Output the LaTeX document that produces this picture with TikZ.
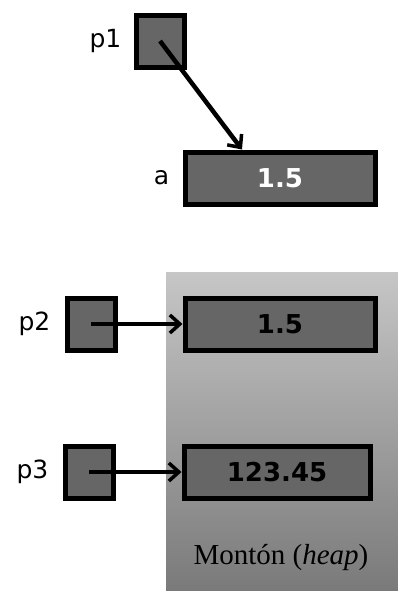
\documentclass[tikz,border=0pt]{standalone}
\usepackage{fontspec}
\setmainfont{DejaVu Sans}
\newfontfamily\serifheap{Liberation Serif}
\usetikzlibrary{arrows.meta}
\definecolor{boxfill}{HTML}{666666}
\definecolor{heaptop}{HTML}{C6C6C6}
\definecolor{heapbot}{HTML}{7A7A7A}
\tikzset{
  ptrbox/.style={draw=black, line width=5pt, fill=boxfill, minimum width=48pt, minimum height=52pt, inner sep=0pt},
  valbox/.style={draw=black, line width=5pt, fill=boxfill, minimum width=190pt, minimum height=52pt, inner sep=0pt, font=\fontsize{26}{28}\selectfont\bfseries},
  lbl/.style={font=\fontsize{25}{27}\selectfont, inner sep=0pt},
  ptrarrow/.style={line width=4.5pt, -{Straight Barb[length=10pt,width=18pt,line width=3.5pt]}}
}
\begin{document}
\begin{tikzpicture}[x=1pt,y=-1pt]
\useasboundingbox (0,0) rectangle (398,597);
\fill[white] (0,0) rectangle (398,597);
\shade[top color=heaptop, bottom color=heapbot] (166,272) rectangle (398,590);
\node[ptrbox] (p1) at (160,41) {};
\node[lbl, anchor=east] (lp1) at (p1.west) [xshift=-12pt] {p1};
\node[valbox, text=white] (a) at (280,178) {1.5};
\node[lbl, anchor=east] (la) at (a.west) [xshift=-13pt] {a};
\node[ptrbox] (p2) at (91,324) {};
\node[lbl, anchor=east] (lp2) at (p2.west) [xshift=-14pt] {p2};
\node[valbox, text=black] (h1) at (280,324) {1.5};
\node[ptrbox] (p3) at (89,472) {};
\node[lbl, anchor=east] (lp3) at (p3.west) [xshift=-14pt] {p3};
\node[valbox, text=black, minimum width=186pt] (h2) at (277,472) {123.45};
\node[font=\serifheap\fontsize{29}{31}\selectfont, inner sep=0pt] (heap) at (281,557) {Montón (\textit{heap})};
\draw[ptrarrow] (p1.center) -- (a.north -| 242,0);
\draw[ptrarrow] (p2.center) -- (h1.west);
\draw[ptrarrow] (p3.center) -- (h2.west);
\end{tikzpicture}
\end{document}
